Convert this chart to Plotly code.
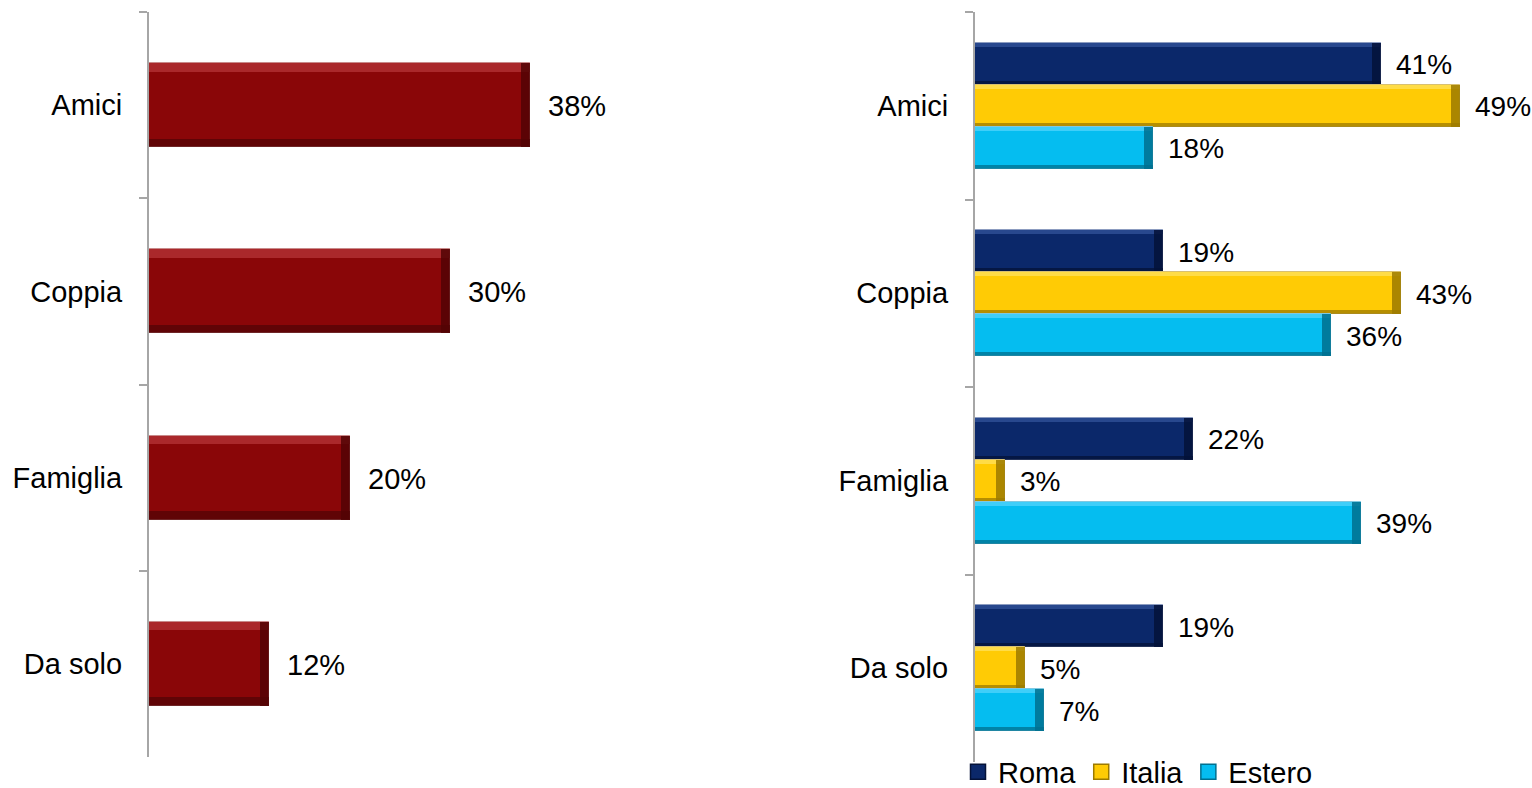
import plotly.graph_objects as go

# Categories and values
categories = ["Amici", "Coppia", "Famiglia", "Da solo"]
totale = [38, 30, 20, 12]
roma = [41, 19, 22, 19]
italia = [49, 43, 3, 5]
estero = [18, 36, 39, 7]
series_names = ["Roma", "Italia", "Estero"]

W, H = 1532, 788
FONT = "Liberation Sans, Arial, sans-serif"
FS = 29

# palettes: (main, highlight, shadow, outline)
RED = ("#8A0608", "#B8383A", "#520405", "#C88A8A")
NAVY = ("#0B286A", "#34559E", "#041238", "#8C9CC0")
GOLD = ("#FFCB05", "#FFE264", "#9C7A00", "#D8C070")
CYAN = ("#05BDF0", "#58D6FC", "#00708F", "#80C8E0")

fig = go.Figure()


def bevel_bar(vals, center, width, pal, name, xa, ya, xshift, label_size):
    main, hi, sh, outline = pal
    common = dict(orientation="h", xaxis=xa, yaxis=ya, hoverinfo="skip",
                  showlegend=False)
    # body
    fig.add_trace(go.Bar(x=vals, y=categories, width=width, offset=center - width / 2,
                         marker=dict(color=main, line=dict(color=outline, width=1)),
                         name=name, **common))
    s = width * 0.1
    # top highlight
    fig.add_trace(go.Bar(x=vals, y=categories, width=s, offset=center - width / 2,
                         marker=dict(color=hi, line=dict(width=0), opacity=0.7),
                         **common))
    # bottom shadow
    fig.add_trace(go.Bar(x=vals, y=categories, width=s, offset=center + width / 2 - s,
                         marker=dict(color=sh, line=dict(width=0), opacity=0.75),
                         **common))
    # right edge shadow
    d = [min(0.9, 0.3 * v) for v in vals]
    fig.add_trace(go.Bar(x=d, base=[v - e for v, e in zip(vals, d)], y=categories,
                         width=width, offset=center - width / 2,
                         marker=dict(color=sh, line=dict(width=0), opacity=0.85),
                         **common))
    # value labels
    for i, v in enumerate(vals):
        fig.add_annotation(x=v, y=i + center, xref=xa, yref=ya, text=f"{v}%",
                           showarrow=False, xanchor="left", yanchor="middle",
                           xshift=xshift, yshift=-1,
                           font=dict(family=FONT, size=label_size, color="#000000"))


# left panel: overall
bevel_bar(totale, 0.0, 0.45, RED, "Totale", "x", "y", 16, FS)

# right panel: grouped by origin
bw = 0.224
for vals, off, pal, nm in zip([roma, italia, estero], [-bw, 0.0, bw],
                              [NAVY, GOLD, CYAN], series_names):
    bevel_bar(vals, off, bw, pal, nm, "x2", "y2", 13, 28)
    # legend entry
    fig.add_trace(go.Scatter(x=[None], y=[None], xaxis="x2", yaxis="y2", mode="markers",
                             name=nm, hoverinfo="skip",
                             marker=dict(symbol="square", size=15, color=pal[0],
                                         line=dict(color=pal[2], width=1.5))))

yaxis_style = dict(
    type="category", categoryorder="array", categoryarray=categories,
    autorange="reversed", showline=True, linecolor="#A6A6A6", linewidth=2,
    ticks="outside", tickson="boundaries", ticklen=8, tickcolor="#A6A6A6", tickwidth=2,
    ticklabelstandoff=19, showgrid=False, zeroline=False,
    tickfont=dict(family=FONT, size=FS, color="#000000"),
)

fig.update_layout(
    width=W, height=H,
    margin=dict(l=0, r=0, t=0, b=0, autoexpand=False),
    paper_bgcolor="white", plot_bgcolor="white",
    barmode="overlay", bargap=0,
    xaxis=dict(domain=[149 / W, (149 + 50 * 10.03) / W], range=[0, 50], visible=False),
    yaxis=dict(domain=[31 / H, 776 / H], anchor="x", **yaxis_style),
    xaxis2=dict(domain=[975 / W, (975 + 55 * 9.9) / W], range=[0, 55], visible=False),
    yaxis2=dict(domain=[26 / H, 776 / H], anchor="x2", **yaxis_style),
    showlegend=True,
    legend=dict(orientation="h", x=958 / W, y=-0.012, xanchor="left", yanchor="bottom",
                font=dict(family=FONT, size=FS, color="#000000"), itemsizing="trace",
                bgcolor="rgba(0,0,0,0)", traceorder="normal", itemclick=False),
    font=dict(family=FONT),
)

fig.write_html("out.html")
